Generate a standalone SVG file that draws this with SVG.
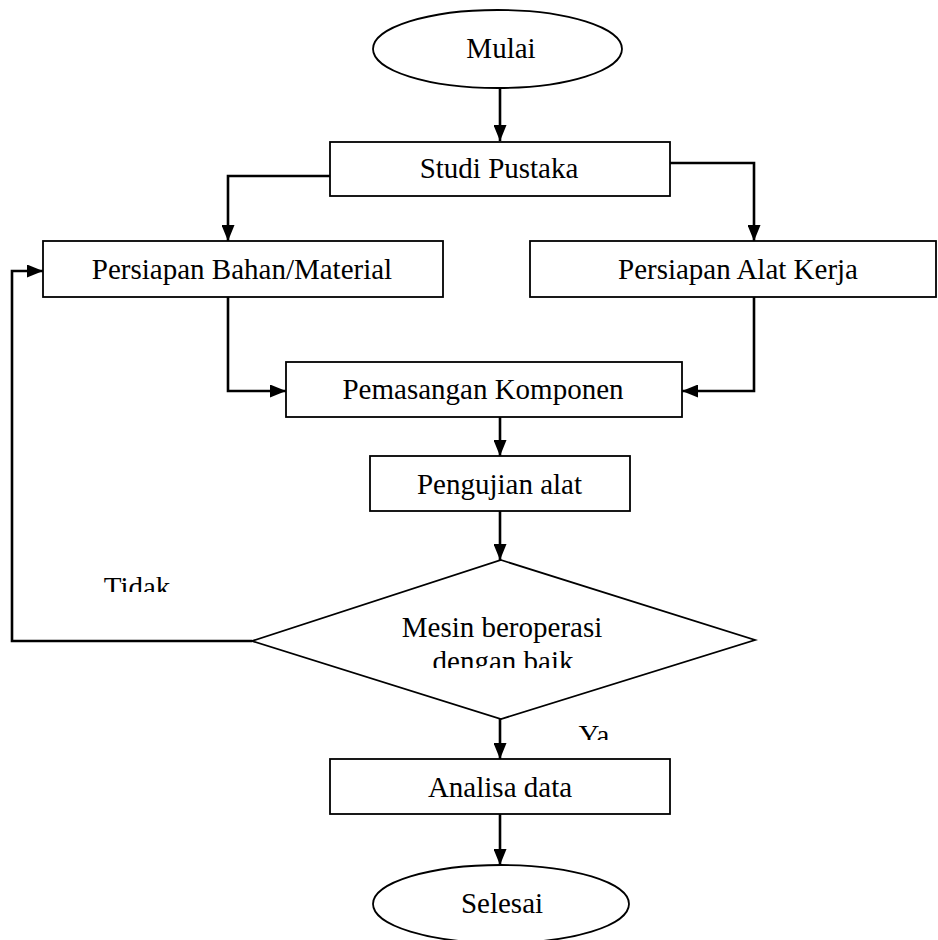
<svg xmlns="http://www.w3.org/2000/svg" width="938" height="940" viewBox="0 0 938 940">
<style>
.shape{fill:#fff;stroke:#000;stroke-width:1.8}
.conn{fill:none;stroke:#000;stroke-width:2.6}
text{font-family:"Liberation Serif","Times New Roman",serif;font-size:29px;fill:#000;text-anchor:middle}
</style>
<defs>
<marker id="arr" markerUnits="userSpaceOnUse" markerWidth="16" markerHeight="13" refX="16" refY="6.5" orient="auto">
<path d="M0,0 L16,6.5 L0,13 z" fill="#000"/>
</marker>
<clipPath id="clipTidak"><rect x="80" y="555" width="120" height="37"/></clipPath>
<clipPath id="clipDengan"><rect x="400" y="645" width="210" height="23"/></clipPath>
<clipPath id="clipYa"><rect x="565" y="715" width="60" height="25"/></clipPath>
</defs>
<rect width="938" height="940" fill="#fff"/>
<g id="connectors">
<line class="conn" x1="500" y1="88" x2="500" y2="141" marker-end="url(#arr)"/>
<polyline class="conn" points="330,176 228,176 228,241" marker-end="url(#arr)"/>
<polyline class="conn" points="670,163 754,163 754,241" marker-end="url(#arr)"/>
<polyline class="conn" points="228,297 228,391 286,391" marker-end="url(#arr)"/>
<polyline class="conn" points="754,297 754,391 682,391" marker-end="url(#arr)"/>
<line class="conn" x1="500" y1="417" x2="500" y2="456" marker-end="url(#arr)"/>
<line class="conn" x1="500" y1="511" x2="500" y2="560" marker-end="url(#arr)"/>
<polyline class="conn" points="252,641 12,641 12,271 43,271" marker-end="url(#arr)"/>
<line class="conn" x1="500" y1="719" x2="500" y2="759" marker-end="url(#arr)"/>
<line class="conn" x1="500" y1="814" x2="500" y2="865" marker-end="url(#arr)"/>
<text x="137" y="597" clip-path="url(#clipTidak)">Tidak</text>
<text x="594" y="745" clip-path="url(#clipYa)">Ya</text>
</g>
<g id="mulai">
<ellipse class="shape" cx="497.5" cy="49" rx="124.5" ry="39"/>
<text x="501" y="58">Mulai</text>
</g>
<g id="studi-pustaka">
<rect class="shape" x="330" y="142" width="340" height="54"/>
<text x="499" y="178">Studi Pustaka</text>
</g>
<g id="persiapan-bahan">
<rect class="shape" x="43" y="241" width="400" height="56"/>
<text x="242" y="279">Persiapan Bahan/Material</text>
</g>
<g id="persiapan-alat">
<rect class="shape" x="530" y="241" width="406" height="56"/>
<text x="738" y="279">Persiapan Alat Kerja</text>
</g>
<g id="pemasangan">
<rect class="shape" x="286" y="362" width="396" height="55"/>
<text x="483" y="399">Pemasangan Komponen</text>
</g>
<g id="pengujian">
<rect class="shape" x="370" y="456" width="260" height="55"/>
<text x="499.5" y="494">Pengujian alat</text>
</g>
<g id="keputusan">
<polygon class="shape" points="501,560 755,640 501,719 252,641"/>
<text x="502" y="637">Mesin beroperasi</text>
<text x="503" y="671" clip-path="url(#clipDengan)">dengan baik</text>
</g>
<g id="analisa">
<rect class="shape" x="330" y="759" width="340" height="55"/>
<text x="500" y="797">Analisa data</text>
</g>
<g id="selesai">
<ellipse class="shape" cx="501" cy="904" rx="128" ry="39"/>
<text x="502" y="913">Selesai</text>
</g>
</svg>
